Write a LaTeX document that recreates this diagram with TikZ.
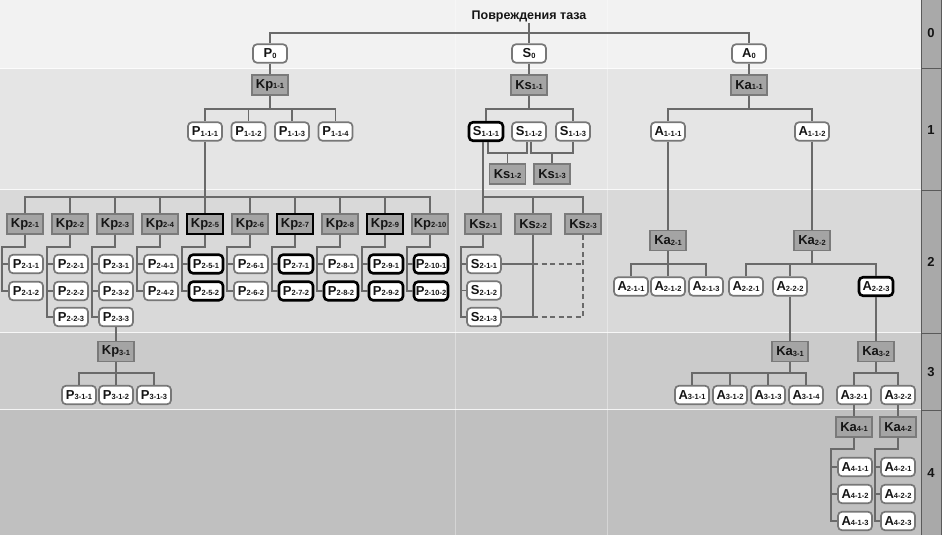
\documentclass[tikz,border=0pt]{standalone}
\usepackage{fontspec}
\setmainfont{Liberation Sans}
\usetikzlibrary{calc}
\definecolor{bgz}{HTML}{F2F2F2}
\definecolor{bga}{HTML}{E5E5E5}
\definecolor{bgb}{HTML}{D9D9D9}
\definecolor{bgc}{HTML}{CBCBCB}
\definecolor{bgd}{HTML}{C0C0C0}
\definecolor{rcol}{HTML}{A9A9A9}
\definecolor{rline}{HTML}{5A5A5A}
\definecolor{lcol}{HTML}{6A6A6A}
\definecolor{boxline}{HTML}{777777}
\definecolor{gfill}{HTML}{A4A4A4}
\definecolor{gline}{HTML}{7A7A7A}
\definecolor{txt}{HTML}{151515}
\newcommand{\nl}[2]{{\fontsize{13}{15}\selectfont #1}{\fontsize{7.5}{8}\selectfont\raisebox{-0.6pt}{#2}}}
\tikzset{
  wbox/.style={draw=boxline, fill=white, rounded corners=4pt, line width=1.7pt,
    minimum width=34pt, minimum height=18.5pt, inner xsep=1.5pt, inner ysep=0pt,
    font=\bfseries, text=txt},
  gbox/.style={draw=gline, fill=gfill, line width=1.6pt,
    minimum width=36pt, minimum height=20pt, inner xsep=1.5pt, inner ysep=0pt,
    font=\bfseries, text=txt},
  hl/.style={draw=black, line width=2.6pt},
  conn/.style={draw=lcol, line width=1.7pt},
  dconn/.style={draw=lcol, line width=1.7pt, dash pattern=on 5pt off 3.5pt},
  lvl/.style={font=\bfseries\fontsize{13}{13}\selectfont, text=txt, inner sep=0pt},
}
\begin{document}
\begin{tikzpicture}[x=1pt,y=-1pt]
\useasboundingbox (0,0) rectangle (942,535);
% bands
\fill[bgz] (0,0) rectangle (921,69);
\fill[bga] (0,69) rectangle (921,190);
\fill[bgb] (0,190) rectangle (921,333);
\fill[bgc] (0,333) rectangle (921,410);
\fill[bgd] (0,410) rectangle (921,535);
\foreach \yy in {68.5,189.5,332.5,409.5}
  \draw[white, opacity=0.8, line width=1.5pt] (0,\yy) -- (921,\yy);
\draw[white, opacity=0.35, line width=0.8pt] (455,0) -- (455,535);
\draw[white, opacity=0.35, line width=0.8pt] (607,0) -- (607,535);
% right column
\fill[rcol] (921,0) rectangle (942,535);
\draw[rline, line width=1pt] (921.5,0) -- (921.5,535);
\draw[rline, line width=1pt] (941.5,0) -- (941.5,535);
\foreach \yy in {69,190,333,410}
  \draw[rline, line width=1pt] (921,\yy) -- (942,\yy);
\node[lvl] (l0) at (931,33) {0};
\node[lvl] (l1) at (931,130) {1};
\node[lvl] (l2) at (931,262) {2};
\node[lvl] (l3) at (931,372) {3};
\node[lvl] (l4) at (931,473) {4};

% level 0
\node[font=\bfseries\fontsize{12.5}{14}\selectfont, text=txt, inner sep=1pt] (title) at (529,16) {Повреждения таза};
\node[wbox] (p0) at (270,53.5) {\nl{P}{0}};
\node[wbox] (s0) at (529,53.5) {\nl{S}{0}};
\node[wbox] (a0) at (749,53.5) {\nl{A}{0}};

% level 1
\node[gbox] (kp11) at (270,85) {\nl{Kp}{1-1}};
\node[gbox] (ks11) at (529,85) {\nl{Ks}{1-1}};
\node[gbox] (ka11) at (749,85) {\nl{Ka}{1-1}};
\node[wbox] (p111) at (205,131.5) {\nl{P}{1-1-1}};
\node[wbox] (p112) at (248.5,131.5) {\nl{P}{1-1-2}};
\node[wbox] (p113) at (292,131.5) {\nl{P}{1-1-3}};
\node[wbox] (p114) at (335.5,131.5) {\nl{P}{1-1-4}};
\node[wbox,hl] (s111) at (486,131.5) {\nl{S}{1-1-1}};
\node[wbox] (s112) at (529,131.5) {\nl{S}{1-1-2}};
\node[wbox] (s113) at (573,131.5) {\nl{S}{1-1-3}};
\node[wbox] (a111) at (668,131.5) {\nl{A}{1-1-1}};
\node[wbox] (a112) at (812,131.5) {\nl{A}{1-1-2}};
\node[gbox] (ks12) at (507.5,174) {\nl{Ks}{1-2}};
\node[gbox] (ks13) at (552,174) {\nl{Ks}{1-3}};

% level 2 : P
\node[gbox] (kp21) at (25,224) {\nl{Kp}{2-1}};
\node[gbox] (kp22) at (70,224) {\nl{Kp}{2-2}};
\node[gbox] (kp23) at (115,224) {\nl{Kp}{2-3}};
\node[gbox] (kp24) at (160,224) {\nl{Kp}{2-4}};
\node[gbox,hl] (kp25) at (205,224) {\nl{Kp}{2-5}};
\node[gbox] (kp26) at (250,224) {\nl{Kp}{2-6}};
\node[gbox,hl] (kp27) at (295,224) {\nl{Kp}{2-7}};
\node[gbox] (kp28) at (340,224) {\nl{Kp}{2-8}};
\node[gbox,hl] (kp29) at (385,224) {\nl{Kp}{2-9}};
\node[gbox] (kp2x) at (430,224) {\nl{Kp}{2-10}};

\node[wbox] (p211) at (26,264) {\nl{P}{2-1-1}};
\node[wbox] (p212) at (26,291) {\nl{P}{2-1-2}};
\node[wbox] (p221) at (71,264) {\nl{P}{2-2-1}};
\node[wbox] (p222) at (71,291) {\nl{P}{2-2-2}};
\node[wbox] (p223) at (71,317) {\nl{P}{2-2-3}};
\node[wbox] (p231) at (116,264) {\nl{P}{2-3-1}};
\node[wbox] (p232) at (116,291) {\nl{P}{2-3-2}};
\node[wbox] (p233) at (116,317) {\nl{P}{2-3-3}};
\node[wbox] (p241) at (161,264) {\nl{P}{2-4-1}};
\node[wbox] (p242) at (161,291) {\nl{P}{2-4-2}};
\node[wbox,hl] (p251) at (206,264) {\nl{P}{2-5-1}};
\node[wbox,hl] (p252) at (206,291) {\nl{P}{2-5-2}};
\node[wbox] (p261) at (251,264) {\nl{P}{2-6-1}};
\node[wbox] (p262) at (251,291) {\nl{P}{2-6-2}};
\node[wbox,hl] (p271) at (296,264) {\nl{P}{2-7-1}};
\node[wbox,hl] (p272) at (296,291) {\nl{P}{2-7-2}};
\node[wbox] (p281) at (341,264) {\nl{P}{2-8-1}};
\node[wbox,hl] (p282) at (341,291) {\nl{P}{2-8-2}};
\node[wbox,hl] (p291) at (386,264) {\nl{P}{2-9-1}};
\node[wbox,hl] (p292) at (386,291) {\nl{P}{2-9-2}};
\node[wbox,hl] (p2x1) at (431,264) {\nl{P}{2-10-1}};
\node[wbox,hl] (p2x2) at (431,291) {\nl{P}{2-10-2}};

% level 2 : S
\node[gbox] (ks21) at (483,224) {\nl{Ks}{2-1}};
\node[gbox] (ks22) at (533,224) {\nl{Ks}{2-2}};
\node[gbox] (ks23) at (583,224) {\nl{Ks}{2-3}};
\node[wbox] (s211) at (484,264) {\nl{S}{2-1-1}};
\node[wbox] (s212) at (484,290.5) {\nl{S}{2-1-2}};
\node[wbox] (s213) at (484,317) {\nl{S}{2-1-3}};

% level 2 : A
\node[gbox] (ka21) at (668,240.5) {\nl{Ka}{2-1}};
\node[gbox] (ka22) at (812,240.5) {\nl{Ka}{2-2}};
\node[wbox] (a211) at (631,286.5) {\nl{A}{2-1-1}};
\node[wbox] (a212) at (668,286.5) {\nl{A}{2-1-2}};
\node[wbox] (a213) at (706,286.5) {\nl{A}{2-1-3}};
\node[wbox] (a221) at (746,286.5) {\nl{A}{2-2-1}};
\node[wbox] (a222) at (790,286.5) {\nl{A}{2-2-2}};
\node[wbox,hl] (a223) at (876,286.5) {\nl{A}{2-2-3}};

% level 3
\node[gbox] (kp31) at (116,351.5) {\nl{Kp}{3-1}};
\node[wbox] (p311) at (79,395) {\nl{P}{3-1-1}};
\node[wbox] (p312) at (116,395) {\nl{P}{3-1-2}};
\node[wbox] (p313) at (154,395) {\nl{P}{3-1-3}};
\node[gbox] (ka31) at (790,351.5) {\nl{Ka}{3-1}};
\node[gbox] (ka32) at (876,351.5) {\nl{Ka}{3-2}};
\node[wbox] (a311) at (692,395) {\nl{A}{3-1-1}};
\node[wbox] (a312) at (730,395) {\nl{A}{3-1-2}};
\node[wbox] (a313) at (768,395) {\nl{A}{3-1-3}};
\node[wbox] (a314) at (806,395) {\nl{A}{3-1-4}};
\node[wbox] (a321) at (854,395) {\nl{A}{3-2-1}};
\node[wbox] (a322) at (898,395) {\nl{A}{3-2-2}};

% level 4
\node[gbox] (ka41) at (854,427) {\nl{Ka}{4-1}};
\node[gbox] (ka42) at (898,427) {\nl{Ka}{4-2}};
\node[wbox] (a411) at (855,467) {\nl{A}{4-1-1}};
\node[wbox] (a412) at (855,494) {\nl{A}{4-1-2}};
\node[wbox] (a413) at (855,521) {\nl{A}{4-1-3}};
\node[wbox] (a421) at (898,467) {\nl{A}{4-2-1}};
\node[wbox] (a422) at (898,494) {\nl{A}{4-2-2}};
\node[wbox] (a423) at (898,521) {\nl{A}{4-2-3}};

% ---------- connectors ----------
\coordinate (bz) at (0,33);
\draw[conn] (title.south) -- (s0.north);
\draw[conn] (p0.north) -- (p0.north |- bz) -- (a0.north |- bz) -- (a0.north);
\draw[conn] (p0.south) -- (kp11.north);
\draw[conn] (s0.south) -- (ks11.north);
\draw[conn] (a0.south) -- (ka11.north);

\coordinate (ba) at (0,109);
\draw[conn] (kp11.south) -- (kp11.south |- ba);
\draw[conn] (p111.north) -- (p111.north |- ba) -- (p114.north |- ba) -- (p114.north);
\draw[conn] (p112.north) -- (p112.north |- ba);
\draw[conn] (p113.north) -- (p113.north |- ba);
\draw[conn] (ks11.south) -- (ks11.south |- ba);
\draw[conn] (s111.north) -- (s111.north |- ba) -- (s113.north |- ba) -- (s113.north);
\draw[conn] (ka11.south) -- (ka11.south |- ba);
\draw[conn] (a111.north) -- (a111.north |- ba) -- (a112.north |- ba) -- (a112.north);

\coordinate (jn) at (0,153);
\draw[conn] ([xshift=2pt]s111.south) -- ([xshift=2pt]s111.south |- jn) -- ([xshift=-2pt]s112.south |- jn) -- ([xshift=-2pt]s112.south);
\draw[conn] (ks12.north) -- (ks12.north |- jn);
\draw[conn] ([xshift=2pt]s112.south) -- ([xshift=2pt]s112.south |- jn) -- (s113.south |- jn) -- (s113.south);
\draw[conn] (ks13.north) -- (ks13.north |- jn);

% level 2 P
\coordinate (bb) at (0,197);
\draw[conn] (p111.south) -- (kp25.north);
\draw[conn] (kp21.north) -- (kp21.north |- bb) -- (kp2x.north |- bb) -- (kp2x.north);
\foreach \n in {kp22,kp23,kp24,kp26,kp27,kp28,kp29}
  \draw[conn] (\n.north) -- (\n.north |- bb);
% hanging groups
\draw[conn] (kp21.south) -- ++(0,12) -| ([xshift=-6pt]p212.west) -- (p212.west);
\draw[conn] ([xshift=-6pt]p211.west) -- (p211.west);
\draw[conn] (kp22.south) -- ++(0,12) -| ([xshift=-6pt]p223.west) -- (p223.west);
\draw[conn] ([xshift=-6pt]p221.west) -- (p221.west);
\draw[conn] ([xshift=-6pt]p222.west) -- (p222.west);
\draw[conn] (kp23.south) -- ++(0,12) -| ([xshift=-6pt]p233.west) -- (p233.west);
\draw[conn] ([xshift=-6pt]p231.west) -- (p231.west);
\draw[conn] ([xshift=-6pt]p232.west) -- (p232.west);
\draw[conn] (kp24.south) -- ++(0,12) -| ([xshift=-6pt]p242.west) -- (p242.west);
\draw[conn] ([xshift=-6pt]p241.west) -- (p241.west);
\draw[conn] (kp25.south) -- ++(0,12) -| ([xshift=-6pt]p252.west) -- (p252.west);
\draw[conn] ([xshift=-6pt]p251.west) -- (p251.west);
\draw[conn] (kp26.south) -- ++(0,12) -| ([xshift=-6pt]p262.west) -- (p262.west);
\draw[conn] ([xshift=-6pt]p261.west) -- (p261.west);
\draw[conn] (kp27.south) -- ++(0,12) -| ([xshift=-6pt]p272.west) -- (p272.west);
\draw[conn] ([xshift=-6pt]p271.west) -- (p271.west);
\draw[conn] (kp28.south) -- ++(0,12) -| ([xshift=-6pt]p282.west) -- (p282.west);
\draw[conn] ([xshift=-6pt]p281.west) -- (p281.west);
\draw[conn] (kp29.south) -- ++(0,12) -| ([xshift=-6pt]p292.west) -- (p292.west);
\draw[conn] ([xshift=-6pt]p291.west) -- (p291.west);
\draw[conn] (kp2x.south) -- ++(0,12) -| ([xshift=-6pt]p2x2.west) -- (p2x2.west);
\draw[conn] ([xshift=-6pt]p2x1.west) -- (p2x1.west);

% level 2 S
\draw[conn] ([xshift=-3pt]s111.south) -- (ks21.north);
\draw[conn] (ks21.north |- bb) -- (ks23.north |- bb) -- (ks23.north);
\draw[conn] (ks22.north) -- (ks22.north |- bb);
\draw[conn] (ks21.south) -- ++(0,12) -| ([xshift=-5pt]s213.west) -- (s213.west);
\draw[conn] ([xshift=-5pt]s211.west) -- (s211.west);
\draw[conn] ([xshift=-5pt]s212.west) -- (s212.west);
\draw[conn] (ks22.south) -- (ks22.south |- s213.east);
\draw[conn] (s211.east) -- (ks22.south |- s211.east);
\draw[conn] (s213.east) -- (ks22.south |- s213.east);
\draw[dconn] (ks22.south |- s211.east) -- (ks23.south |- s211.east);
\draw[dconn] (ks22.south |- s213.east) -- (ks23.south |- s213.east) -- (ks23.south);

% level 2 A
\draw[conn] (a111.south) -- (ka21.north);
\draw[conn] (a112.south) -- (ka22.north);
\coordinate (bc) at (0,264);
\draw[conn] (ka21.south) -- (ka21.south |- bc);
\draw[conn] (a211.north) -- (a211.north |- bc) -- (a213.north |- bc) -- (a213.north);
\draw[conn] (a212.north) -- (a212.north |- bc);
\draw[conn] (ka22.south) -- (ka22.south |- bc);
\draw[conn] (a221.north) -- (a221.north |- bc) -- (a223.north |- bc) -- (a223.north);
\draw[conn] (a222.north) -- (a222.north |- bc);

% level 3
\coordinate (bd) at (0,373);
\draw[conn] (p233.south) -- (kp31.north);
\draw[conn] (kp31.south) -- (kp31.south |- bd);
\draw[conn] (p311.north) -- (p311.north |- bd) -- (p313.north |- bd) -- (p313.north);
\draw[conn] (p312.north) -- (p312.north |- bd);
\draw[conn] (a222.south) -- (ka31.north);
\draw[conn] (a223.south) -- (ka32.north);
\draw[conn] (ka31.south) -- (ka31.south |- bd);
\draw[conn] (a311.north) -- (a311.north |- bd) -- (a314.north |- bd) -- (a314.north);
\draw[conn] (a312.north) -- (a312.north |- bd);
\draw[conn] (a313.north) -- (a313.north |- bd);
\draw[conn] (ka32.south) -- (ka32.south |- bd);
\draw[conn] (a321.north) -- (a321.north |- bd) -- (a322.north |- bd) -- (a322.north);

% level 4
\draw[conn] (a321.south) -- (ka41.north);
\draw[conn] (a322.south) -- (ka42.north);
\draw[conn] (ka41.south) -- ++(0,11) -| ([xshift=-6pt]a413.west) -- (a413.west);
\draw[conn] ([xshift=-6pt]a411.west) -- (a411.west);
\draw[conn] ([xshift=-6pt]a412.west) -- (a412.west);
\draw[conn] (ka42.south) -- ++(0,11) -| ([xshift=-5pt]a423.west) -- (a423.west);
\draw[conn] ([xshift=-5pt]a421.west) -- (a421.west);
\draw[conn] ([xshift=-5pt]a422.west) -- (a422.west);
\end{tikzpicture}
\end{document}
